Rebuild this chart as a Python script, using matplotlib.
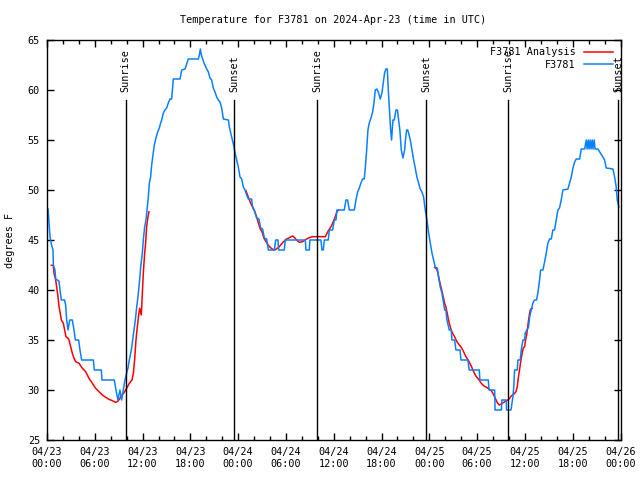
import matplotlib
matplotlib.use("Agg")
import matplotlib.pyplot as plt
import matplotlib.transforms as mtransforms

# hours since 2024-04-23 00:00 UTC, temperatures in F
obs_hours = [0.13, 0.38, 0.54, 0.75, 0.8, 1.0, 1.09, 1.5, 1.63, 1.8, 2.2, 2.34, 2.47, 2.64, 2.85, 3.18,
             3.39, 3.56, 3.97, 4.14, 4.35, 5.82, 5.94, 6.82, 6.9, 8.45, 8.66, 8.9, 9.16, 9.37, 9.58, 9.79,
             10.0, 10.17, 10.33, 10.59, 10.75, 10.92, 11.09, 11.26, 11.42, 11.63, 11.76, 11.97, 12.09, 12.26,
             12.43, 12.59, 12.72, 12.85, 13.01, 13.14, 13.31, 13.47, 13.68, 13.89, 14.1, 14.27, 14.4, 14.61,
             14.81, 15.02, 15.23, 15.44, 15.65, 15.74, 15.86, 16.7, 16.91, 17.33, 17.54, 17.74, 19.0, 19.13,
             19.25, 19.38, 19.54, 19.71, 19.88, 20.05, 20.26, 20.46, 20.67, 20.88, 21.09, 21.3, 21.51, 21.72,
             21.93, 22.14, 22.77, 22.89, 23.06, 23.27, 23.48, 23.64, 23.81, 24.02, 24.23, 24.44, 24.65, 24.86,
             25.06, 25.28, 25.69, 25.82, 26.03, 26.32, 26.61, 26.82, 27.07, 27.28, 27.58, 27.79, 28.54, 28.71,
             29.0, 29.08, 29.79, 29.92, 32.43, 32.51, 32.93, 33.0, 34.39, 34.52, 34.69, 34.81, 35.31, 35.44,
             35.86, 36.07, 36.28, 36.4, 37.32, 37.53, 37.74, 37.95, 38.58, 38.79, 39.0, 39.21, 39.41, 39.62,
             39.83, 39.96, 40.13, 40.29, 40.46, 40.67, 40.88, 41.05, 41.21, 41.42, 41.63, 41.84, 42.05, 42.22,
             42.38, 42.55, 42.72, 42.85, 42.97, 43.14, 43.26, 43.43, 43.6, 43.81, 44.0, 44.14, 44.3, 44.48,
             44.69, 44.9, 45.0, 45.15, 45.28, 45.4, 45.61, 45.82, 46.03, 46.23, 46.44, 46.65, 46.86, 47.07,
             47.28, 47.49, 47.7, 47.91, 48.12, 48.33, 48.54, 48.74, 49.0, 49.16, 49.37, 49.58, 49.79, 49.92,
             50.08, 50.21, 50.5, 50.75, 50.84, 51.17, 51.34, 51.86, 51.97, 52.84, 53.01, 54.27, 54.35, 55.4,
             55.5, 56.2, 56.25, 57.05, 57.1, 57.65, 57.7, 58.25, 58.49, 58.62, 58.7, 59.04, 59.12, 59.41,
             59.54, 59.75, 59.96, 60.04, 60.25, 60.46, 60.59, 60.8, 61.0, 61.21, 61.46, 61.63, 61.84, 61.97,
             62.26, 62.47, 62.68, 62.89, 63.1, 63.31, 63.51, 63.72, 63.93, 64.14, 64.34, 64.56, 64.77, 65.4,
             65.61, 65.82, 66.03, 66.24, 66.45, 66.87, 67.07, 67.5, 67.7, 67.8, 67.95, 68.05, 68.2, 68.3,
             68.45, 68.55, 68.7, 68.8, 69.16, 69.79, 70.0, 70.21, 71.05, 71.26, 71.46, 71.59, 71.8]
obs_temps = [48.1, 45.3, 44.6, 44.0, 42.5, 42.0, 41.1, 40.9, 40.0, 39.0, 39.0, 38.5, 37.0, 36.0, 37.0, 37.0,
             36.0, 35.0, 35.0, 34.0, 33.0, 33.0, 32.0, 32.0, 31.0, 31.0, 30.0, 29.0, 30.0, 29.0, 30.0, 31.0,
             31.7, 32.2, 33.0, 34.0, 35.0, 36.0, 37.0, 38.3, 39.3, 41.0, 42.3, 43.7, 45.0, 46.3,
             47.0, 48.3, 49.3, 50.7, 51.3, 52.5, 53.5, 54.5, 55.2, 55.8, 56.2, 56.7, 57.0, 57.7,
             58.0, 58.2, 58.7, 59.1, 59.1, 60.0, 61.1, 61.1, 62.0, 62.1, 62.6, 63.1, 63.1, 63.5,
             64.1, 63.5, 63.1, 62.7, 62.4, 62.1, 61.8, 61.2, 61.0, 60.2, 59.8, 59.3, 59.0, 58.8,
             58.2, 57.1, 57.0, 56.3, 55.7, 55.0, 54.3, 53.6, 53.0, 52.3, 51.3, 51.1, 50.3, 50.0,
             49.5, 49.1, 49.1, 48.2, 48.0, 47.2, 47.1, 46.2, 46.1, 45.2, 45.1, 44.0, 44.0, 45.0,
             45.0, 44.0, 44.0, 45.0, 45.0, 44.0, 44.0, 45.0, 45.0, 44.0, 44.0, 45.0, 45.0, 46.0,
             46.0, 47.0, 47.0, 48.0, 48.0, 49.0, 49.0, 48.0, 48.0, 49.0, 49.8, 50.2, 50.7, 51.1,
             51.1, 52.2, 54.0, 56.0, 56.7, 57.2, 57.8, 58.7, 60.0, 60.1, 59.7, 59.1, 59.7, 60.7,
             61.7, 62.1, 62.1, 60.0, 58.3, 56.0, 55.0, 57.0, 57.0, 58.0, 58.0, 57.0, 56.0, 54.0,
             53.2, 54.0, 55.0, 56.0, 56.0, 55.7, 55.0, 54.0, 53.0, 52.2, 51.3, 50.7, 50.1, 49.8,
             49.3, 48.0, 47.0, 45.7, 44.7, 43.7, 43.0, 42.3, 42.2, 41.3, 40.3, 39.7, 38.7, 38.0,
             38.0, 37.0, 36.0, 36.0, 35.0, 35.0, 34.0, 34.0, 33.0, 33.0, 32.0, 32.0, 31.0, 31.0,
             30.0, 30.0, 28.0, 28.0, 29.0, 29.0, 28.0, 28.0, 29.3, 30.5, 32.0, 32.0, 33.0, 33.0,
             34.0, 35.0, 35.0, 35.7, 36.0, 36.3, 37.3, 38.0, 38.7, 39.0, 39.0, 39.7, 41.0, 42.0,
             42.0, 42.8, 43.7, 44.7, 45.1, 45.1, 46.0, 46.0, 47.0, 48.0, 48.2, 49.0, 50.0, 50.1,
             50.7, 51.3, 52.2, 52.8, 53.1, 53.1, 54.1, 54.1, 55.0, 54.1, 55.0, 54.1, 55.0, 54.1,
             55.0, 54.1, 55.0, 54.1, 54.1, 53.3, 53.0, 52.2, 52.1, 51.3, 50.3, 49.0, 48.3]

# analysis, three overnight pieces
ana1_hours = [0.54, 0.79, 0.88, 1.09, 1.21, 1.38, 1.51, 1.63, 1.8, 2.05, 2.22, 2.38, 2.64, 2.76, 2.97, 3.18,
              3.39, 3.6, 4.02, 4.44, 4.85, 5.27, 5.69, 6.11, 6.53, 6.95, 7.36, 7.78, 8.2, 8.62, 8.83, 9.08,
              9.33, 9.67, 10.0, 10.33, 10.67, 10.84, 11.0, 11.17, 11.34, 11.51, 11.63, 11.84, 11.97, 12.09,
              12.26, 12.38, 12.51, 12.68, 12.8]
ana1_temps = [42.47, 42.47, 41.67, 41.0, 40.33, 39.33, 38.33, 37.83, 37.0, 36.67, 36.0, 35.33, 35.17, 35.0,
              34.33, 33.67, 33.17, 32.83, 32.67, 32.17, 31.83, 31.17, 30.67, 30.17, 29.83, 29.5, 29.27,
              29.07, 28.93, 28.77, 28.83, 29.07, 29.4, 29.73, 30.17, 30.67, 31.0, 31.67, 33.0, 35.0, 36.33,
              37.5, 38.17, 37.5, 39.67, 41.67, 43.67, 44.67, 46.33, 47.33, 47.83]
ana2_hours = [24.98, 25.28, 25.57, 25.9, 26.24, 26.49, 26.74, 26.99, 27.24, 27.5, 27.75, 28.0, 28.33, 28.62,
              29.16, 29.58, 30.0, 30.42, 30.84, 31.05, 31.25, 31.46, 31.67, 32.09, 32.51, 32.93, 33.35,
              33.77, 34.95, 35.11, 35.32, 35.53, 35.77, 35.94, 36.19, 36.4, 36.6]
ana2_temps = [49.93, 49.27, 48.67, 48.17, 47.5, 46.83, 46.17, 45.83, 45.17, 44.83, 44.5, 44.27, 44.07, 44.0,
              44.33, 44.73, 45.07, 45.23, 45.4, 45.27, 45.07, 44.9, 44.77, 44.83, 45.07, 45.23, 45.33,
              45.33, 45.33, 45.6, 45.93, 46.17, 46.5, 46.83, 47.33, 47.83, 48.0]
ana3_hours = [48.66, 48.95, 49.08, 49.25, 49.5, 49.67, 49.92, 50.08, 50.33, 50.5, 50.75, 50.92, 51.17, 51.46,
              51.76, 52.01, 52.3, 52.59, 52.93, 53.26, 53.56, 53.85, 54.18, 54.52, 54.85, 55.19, 55.52,
              55.77, 56.03, 56.28, 56.53, 56.78, 57.03, 57.28, 57.6, 57.87, 58.08, 58.28, 58.62, 58.87,
              59.04, 59.16, 59.29, 59.41, 59.54, 59.67, 59.79, 59.96, 60.08, 60.21, 60.33, 60.46, 60.59,
              60.71, 60.92]
ana3_temps = [42.27, 42.07, 41.67, 41.0, 40.17, 39.6, 38.67, 38.33, 37.33, 36.67, 36.0, 35.67, 35.33, 34.83,
              34.5, 34.27, 33.83, 33.33, 32.93, 32.4, 31.83, 31.4, 31.07, 30.67, 30.4, 30.27, 30.07,
              29.93, 29.6, 29.17, 28.73, 28.5, 28.6, 28.73, 28.9, 29.0, 29.17, 29.4, 29.6, 29.83,
              30.33, 31.17, 31.83, 32.5, 33.17, 33.73, 34.17, 34.33, 35.0, 35.5, 36.17, 37.0, 37.67,
              38.07, 38.17]

sunrise_hours = [9.87, 33.93, 57.92]
sunset_hours = [23.52, 47.62, 71.73]

tick_hours = [0, 6, 12, 18, 24, 30, 36, 42, 48, 54, 60, 66, 72]
tick_labels = ["04/23\n00:00", "04/23\n06:00", "04/23\n12:00", "04/23\n18:00",
               "04/24\n00:00", "04/24\n06:00", "04/24\n12:00", "04/24\n18:00",
               "04/25\n00:00", "04/25\n06:00", "04/25\n12:00", "04/25\n18:00",
               "04/26\n00:00"]

plt.rcParams['font.family'] = ['DejaVu Sans Mono']
fs = 7.3
red = "#ff0000"
blue = "#0a80ff"

fig = plt.figure(figsize=(6.4, 4.8), dpi=100)
ax = fig.add_axes([47 / 640, 40 / 480, 573.5 / 640, 400 / 480])

ax.plot(ana1_hours, ana1_temps, color=red, lw=1.1, label="F3781 Analysis")
ax.plot(ana2_hours, ana2_temps, color=red, lw=1.1)
ax.plot(ana3_hours, ana3_temps, color=red, lw=1.1)
ax.plot(obs_hours, obs_temps, color=blue, lw=1.1, label="F3781")

trans = mtransforms.blended_transform_factory(ax.transData, ax.transAxes)
for h in sunrise_hours:
    ax.axvline(h, ymin=0, ymax=0.85, color="black", lw=1)
    ax.text(h, 0.87, "Sunrise", transform=trans, rotation=90, ha="center", va="bottom", fontsize=fs)
for h in sunset_hours:
    ax.axvline(h, ymin=0, ymax=0.85, color="black", lw=1)
    ax.text(h, 0.87, "Sunset", transform=trans, rotation=90, ha="center", va="bottom", fontsize=fs)

ax.set_xlim(0, 72)
ax.set_ylim(25, 65)
ax.set_xticks(tick_hours)
ax.set_xticklabels(tick_labels)
ax.set_xticks(range(0, 73, 2), minor=True)
ax.set_yticks(range(25, 66, 5))
ax.tick_params(which="both", direction="in", top=True, right=True, labelsize=fs, width=1)
ax.tick_params(which="major", length=5)
ax.tick_params(which="minor", length=3)
ax.tick_params(axis="x", pad=5)
ax.tick_params(axis="y", pad=5)
for s in ax.spines.values():
    s.set_linewidth(1)

ax.legend(loc="upper right", frameon=False, markerfirst=False, fontsize=fs,
          handlelength=2.9, handletextpad=0.8, labelspacing=0.25,
          borderaxespad=0.3, borderpad=0.4)

fig.text(333.5 / 640, 1 - 20 / 480, "Temperature for F3781 on 2024-Apr-23 (time in UTC)",
         ha="center", va="center", fontsize=fs)
fig.text(10 / 640, 0.5, "degrees F", rotation=90, ha="center", va="center", fontsize=fs)

fig.savefig("out.png", dpi=100)
